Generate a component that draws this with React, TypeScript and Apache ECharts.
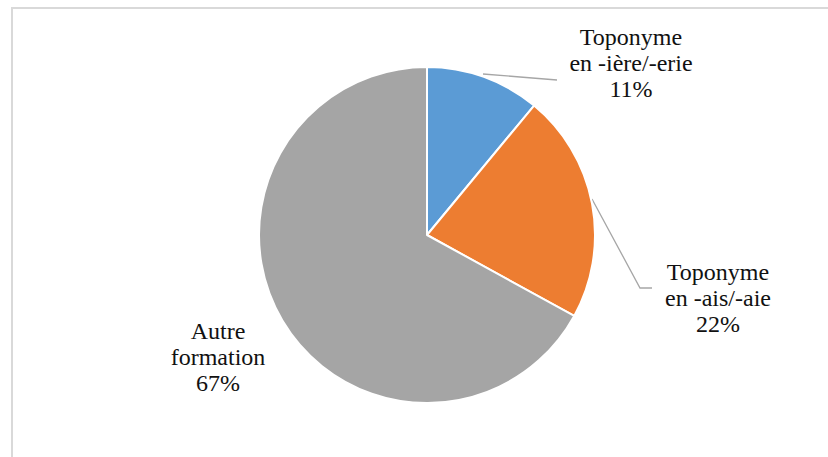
import React, { useEffect, useRef } from "react";
import * as echarts from "echarts";

const categories = ["Toponyme\nen -ière/-erie", "Toponyme\nen -ais/-aie", "Autre\nformation"];
const values = [11, 22, 67];
const colors = ["#5B9BD5", "#ED7D31", "#A5A5A5"];

const FONT = "Liberation Serif";

export default function App() {
  const ref = useRef<HTMLDivElement>(null);
  useEffect(() => {
    if (!ref.current) return;
    const chart = echarts.init(ref.current, null, { renderer: "svg" });
    const labelPos = [
      { x: 631, y: 63, line: [[483, 74], [520, 77], [557, 80]] },
      { x: 718, y: 298, line: [[592, 199], [640, 288], [652, 288]] },
      { x: 218, y: 357, line: null },
    ];
    chart.setOption({
      animation: false,
      backgroundColor: "#ffffff",
      textStyle: { fontFamily: FONT },
      graphic: [
        {
          type: "rect",
          shape: { x: 12, y: 8, width: 840, height: 470 },
          style: { fill: "none", stroke: "#d9d9d9", lineWidth: 2 },
          silent: true,
        },
      ],
      series: [
        {
          type: "pie",
          center: [427, 235],
          radius: 168,
          startAngle: 90,
          clockwise: true,
          avoidLabelOverlap: false,
          itemStyle: { borderColor: "#ffffff", borderWidth: 2 },
          label: {
            show: true,
            formatter: (p: any) => `${p.name}\n${p.value}%`,
            fontFamily: FONT,
            fontSize: 24,
            lineHeight: 26,
            color: "#111111",
            align: "center",
          },
          labelLine: { show: true, lineStyle: { color: "#a6a6a6", width: 1.3 } },
          labelLayout: (params: any) => {
            const lp = labelPos[params.dataIndex];
            const r: any = { x: lp.x, y: lp.y, align: "center", verticalAlign: "middle" };
            if (lp.line) r.labelLinePoints = lp.line;
            return r;
          },
          data: categories.map((c, i) => ({
            name: c,
            value: values[i],
            itemStyle: { color: colors[i] },
            labelLine: { show: i !== 2 },
          })),
        },
      ],
    });
    return () => chart.dispose();
  }, []);
  return (
    <div
      ref={ref}
      style={{ position: "fixed", left: 0, top: 0, width: 828, height: 457 }}
    />
  );
}
